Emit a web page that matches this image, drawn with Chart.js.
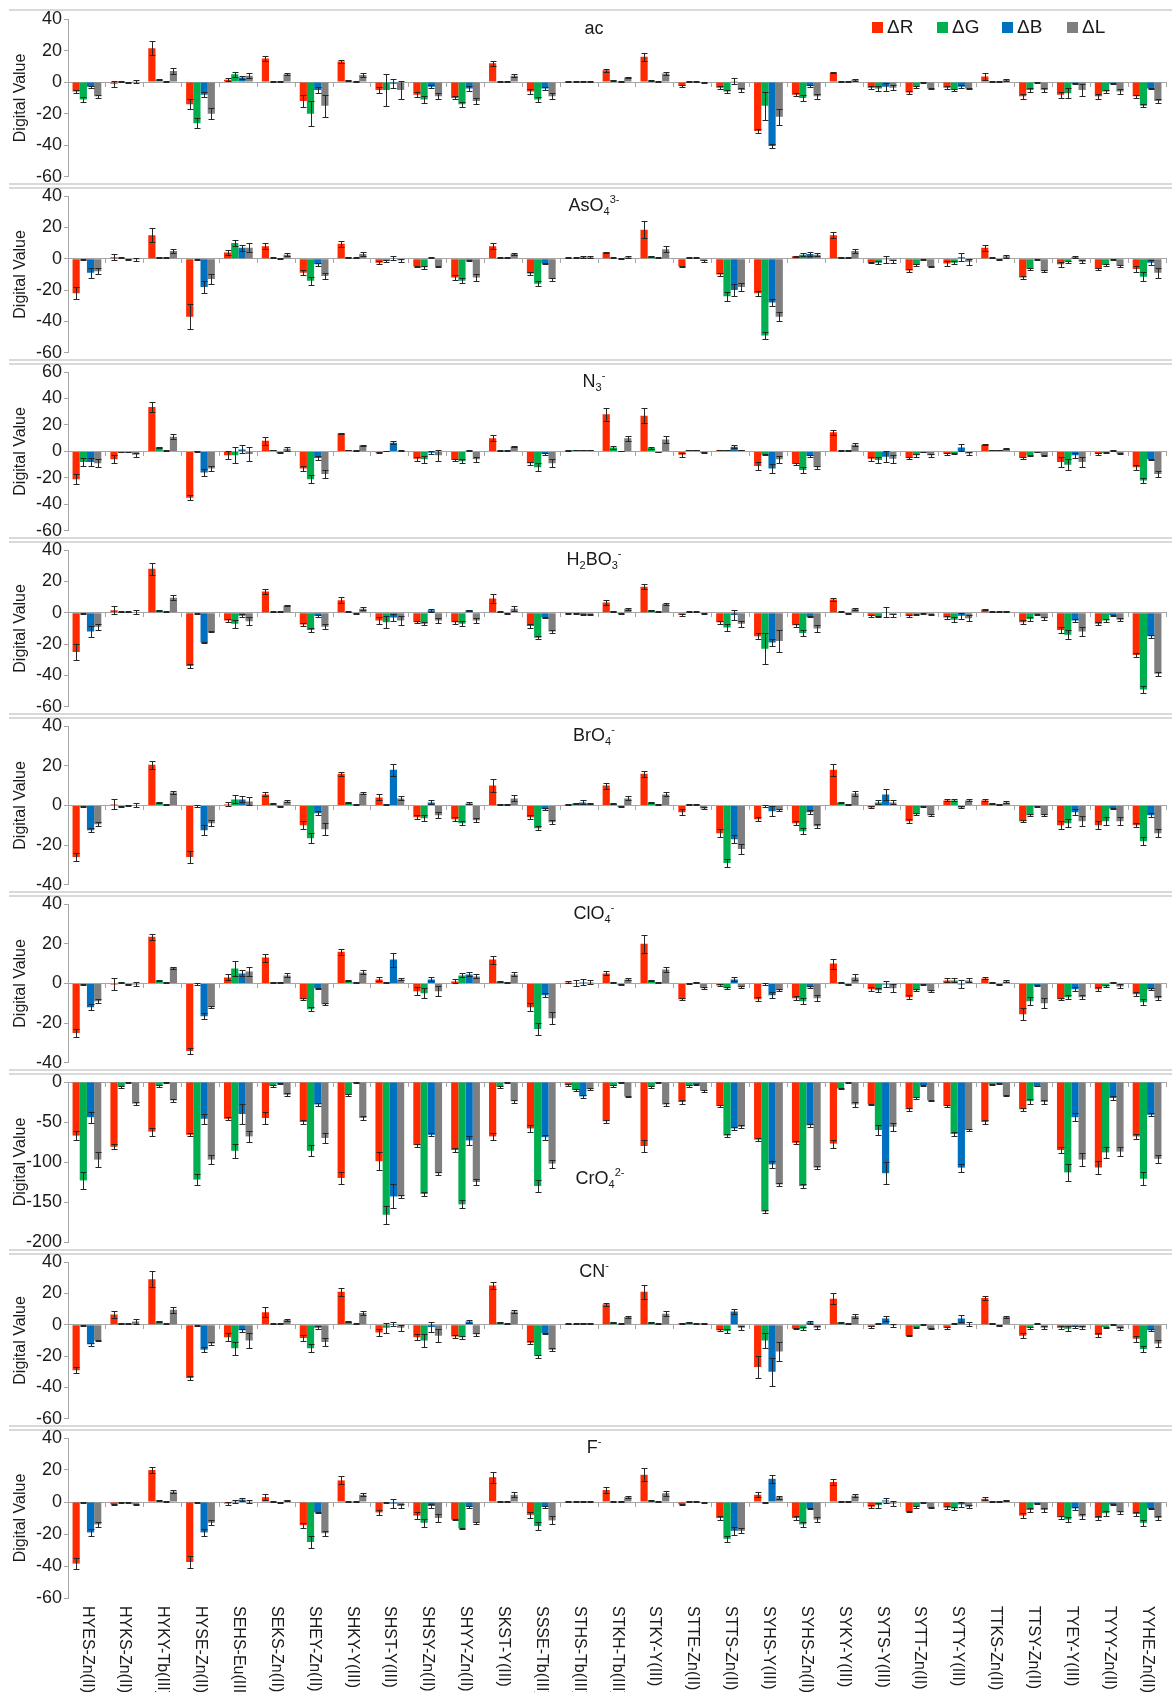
<!DOCTYPE html>
<html>
<head>
<meta charset="utf-8">
<script src="https://cdn.jsdelivr.net/npm/chart.js@4.4.0/dist/chart.umd.min.js"></script>
<style>
  html, body { margin: 0; padding: 0; background: #fff; }
  #wrap { position: relative; width: 1172px; height: 1692px; overflow: hidden; background: #fff; }
  #wrap canvas { position: absolute; left: 0; }
  .rule { position: absolute; left: 9px; width: 1163px; height: 2px; background: #d9d9d9; }
</style>
</head>
<body>
<div id="wrap"></div>
<script>
// ---- categories (sensor / metal complexes) ----
const categories = ['HYES-Zn(II)','HYKS-Zn(II)','HYKY-Tb(III)','HYSE-Zn(II)','SEHS-Eu(III)','SEKS-Zn(II)',
  'SHEY-Zn(II)','SHKY-Y(III)','SHST-Y(III)','SHSY-Zn(II)','SHYY-Zn(II)','SKST-Y(III)','SSSE-Tb(III)',
  'STHS-Tb(III)','STKH-Tb(III)','STKY-Y(III)','STTE-Zn(II)','STTS-Zn(II)','SYHS-Y(III)','SYHS-Zn(II)',
  'SYKY-Y(III)','SYTS-Y(III)','SYTT-Zn(II)','SYTY-Y(III)','TTKS-Zn(II)','TTSY-Zn(II)','TYEY-Y(III)',
  'TYYY-Zn(II)','YYHE-Zn(II)'];

const seriesNames = ['\u0394R', '\u0394G', '\u0394B', '\u0394L'];
const seriesColors = ['#FF2A00', '#00B050', '#0070C0', '#7F7F7F'];

// ---- ac ----
const acR  = [-6,-1,21.5,-14,1.5,15,-12,13,-5,-8,-10,12,-6,0.5,7.5,16,-2.5,-3.5,-31,-8,6,-3.5,-6.5,-3.5,3.5,-9,-8,-9,-9];
const acRe = [1,2,4.5,3,1,1.5,4,1,2,1.5,1,1.5,1.5,0.3,1,2.5,0.5,1,1.5,1,0.5,1,1,1,2,1.5,2,1.5,1];
const acG  = [-11,0.5,1.5,-26,5,0.5,-20,1,-5,-11,-14,0.5,-11,0.5,1,1,0.5,-6,-15,-10,0.5,-4,-3,-5,0.5,-5,-7,-6,-15];
const acGe = [1.5,0.3,0.3,3,1.5,0.3,8,0.3,10,2,1.5,0.3,1.5,0.3,0.3,0.3,0.3,1,9,2,0.3,1.5,0.5,0.5,0.3,1.5,3,1,1];
const acB  = [-3,-0.5,0.5,-8,3,0.3,-5,0.3,-1,-3,-4,0.3,-4,0.5,0.5,0.5,0.5,0.5,-40.5,-2.5,0.5,-3,-0.5,-3,0.5,-0.5,-1,-1,-4];
const acBe = [0.5,0.3,0.3,1.5,1,0.3,2,0.3,3,1,1.5,0.3,1,0.3,0.3,0.3,0.3,2,1,0.5,0.3,2.5,0.3,1,0.3,0.3,0.5,0.3,0.5];
const acL  = [-9,0.5,7,-20,4,5,-15,4.5,-5,-9,-12,4,-9,0.5,3,5.5,-0.5,-5,-22,-9,1.5,-3.5,-4,-4,1.5,-5,-5,-6,-12];
const acLe = [1,1,2,3.5,1.5,0.5,7,1,6,2,2,1,2,0.3,0.5,1,0.3,1,5,1.5,0.5,1.5,0.5,0.5,0.5,1.5,4,1.5,1.5];

// ---- AsO4 3- ----
const asR  = [-22,1,15,-37,4,8,-9,9.5,-2.5,-5,-12,8,-9.5,0.5,4,18.5,-5,-10,-22,1.5,15,-2.5,-7.5,-3,7,-12,-3.5,-6.5,-6.5];
const asRe = [4,2,4.5,8,1.5,2,1.5,2,1,0.5,1.5,2,1,0.3,0.5,5.5,0.5,1,1.5,0.5,2,0.5,1,1.5,2,1,1.5,0.5,2];
const asG  = [-0.5,0.5,1,-0.3,10,0.5,-14,1,-1.5,-5.5,-14,0.5,-16,0.5,0.5,1.5,0.5,-24,-49,2.5,1,-2.5,-4,-2.5,0.5,-6.5,-2,-4,-11.5];
const asGe = [0.3,0.3,0.3,0.3,2,0.3,2.5,0.3,0.5,1,1.5,0.3,1.5,0.3,0.3,0.5,0.3,3,2,1,0.3,1,0.5,1,0.3,0.5,0.5,0.5,3];
const asB  = [-9,-0.5,0.5,-18,7,0.3,-3.5,0.5,0.5,0.5,-1,0.5,-3,1,0.3,0.5,0.5,-20,-28,3,0.5,-0.5,-0.5,1,-0.5,-0.5,1,-0.5,-2.5];
const asBe = [3,0.3,0.3,4,2,0.3,1,0.3,1.5,0.3,0.5,0.3,0.5,0.5,0.3,0.3,0.3,4,2,1,0.3,2.5,0.3,2.5,0.3,0.3,0.5,0.3,1.5];
const asL  = [-8,-0.5,5,-13,7,2.5,-11,3,-1,-5,-12,3,-13,1,1,6,-1.5,-18,-37,2.5,5,-1.5,-5,-2,1.5,-8,-2,-4.5,-9];
const asLe = [2,1,1.5,3,3,1,2,1,1,0.5,2,0.5,1,0.5,0.5,2,0.5,2.5,3,1,1.5,1,0.5,2,1,0.5,1,0.5,3];

// ---- N3 - ----
const n3R  = [-21,-6,33.5,-35,-3,8,-13,13.5,-1,-5.5,-6.5,10,-9,0.5,28,27,-2.5,1,-11,-9.5,14.5,-5.5,-5,-2,5,-5,-8,-2,-12];
const n3Re = [4,3,4,2,3,3,2,0.5,0.3,1.5,1,2.5,1,0.3,5,5.5,1.5,0.3,3,1,2,1.5,1,0.5,0.5,0.5,4,0.5,2];
const n3G  = [-8,-0.5,3,-0.3,-3,1,-21,1,0.3,-6,-7.5,0.5,-12,1,3,2.5,1,1,-2.5,-14,0.5,-6.5,-3,-1.5,1,-3,-10,-1,-22];
const n3Ge = [3,0.3,0.5,0.3,6,0.3,3,0.3,0.3,2.5,1.5,0.3,3,0.3,1,1,0.3,0.3,0.5,2,0.3,2.5,1,0.5,0.3,0.5,4,0.5,2];
const n3B  = [-8,-0.5,0.5,-16,1.5,-1,-5,0.5,6.5,-1,0.5,0.5,-2,1,0.3,-0.5,1,3.5,-13,-3.5,0.5,-4,-0.5,3,1,-0.5,-3,0.5,-6];
const n3Be = [3,0.3,0.3,2.5,3,0.3,1.5,0.3,1,1,0.3,0.3,1,0.3,0.3,0.3,0.3,1,3.5,1,0.3,4,0.3,2.5,0.3,0.3,2,0.3,0.5];
const n3L  = [-9,-2.5,11,-13,-2,2,-17,4.5,0.5,-3,-6,3.5,-9,1,10,9,-1,1,-6,-12,5,-5.5,-3,-1.5,2,-3,-8,-1.5,-17];
const n3Le = [3,1.5,2,2,5,1.5,3,0.5,0.3,4,2,0.5,3,0.3,2,2.5,0.5,0.3,2.5,1,1,3,1,1,0.5,0.5,4,0.5,2];

// ---- H2BO3 - ----
const hbR  = [-25,1.5,28,-34,-5,13.5,-7.5,8,-5,-6,-6,9,-8.5,-0.5,6.5,16.5,-1.5,-6,-15,-8,8.5,-2,-2,-3,2,-6,-11,-7,-27];
const hbRe = [5,2.5,4,1,1,1.5,1,2,2,0.5,1,3,1,0.3,1.5,1.5,0.5,1,2,1,1,0.5,0.5,1,0.5,1.5,2,1,1.5];
const hbG  = [-0.5,0.5,1.5,-0.3,-7,0.5,-11,0.5,-6,-7,-7,0.5,-16,-0.5,1,1.5,0.5,-9.5,-23,-13,0.5,-2.5,-1,-4.5,0.5,-4,-14,-5,-49];
const hbGe = [0.3,0.3,0.3,0.3,2.5,0.3,1.5,0.3,4,1,1.5,0.3,1,0.3,0.3,0.3,0.3,2,10,2,0.3,0.5,0.3,1.5,0.3,1,3,1,2];
const hbB  = [-12,0.5,0.5,-19,-2,0.5,-2,-0.5,-3,1.5,1.5,-0.5,-3,-1,-0.5,0.5,0.5,-1.5,-19,-2.5,-0.5,0.5,-0.5,-2,0.5,-1,-5,-1.5,-15];
const hbBe = [3.5,0.3,0.3,0.5,1,0.3,0.5,0.3,2,1,0.5,0.3,0.5,0.3,0.3,0.3,0.3,3,2,0.5,0.3,3,0.3,2,0.3,0.3,1,0.3,1];
const hbL  = [-9,0.5,9.5,-12,-5.5,4.5,-9,2.5,-5,-5,-5,2.5,-12,-1,2.5,5.5,-0.5,-7,-18,-10,2.5,-1.5,-1,-3.5,1,-3.5,-12,-4.5,-39];
const hbLe = [2,1,1.5,0.5,2.5,0.5,1.5,1,3,1.5,1.5,1.5,1,0.3,0.5,0.5,0.3,2,7,2,0.5,1,0.3,2,0.3,1,3,1,1.5];

// ---- BrO4 - ----
const brR  = [-26,0.5,20.5,-26,0.5,5.5,-10,16,4,-6,-7,10,-6,0.5,10,16,-3.5,-14,-7,-9,18,-1,-8,2.5,2.5,-8,-10,-10,-10];
const brRe = [2,2.5,2,3,1,1,2,1,1.5,1,1,3.5,1,0.3,1.5,1.5,1.5,2,1,1,3,0.5,1,0.5,0.5,0.5,2,2,1];
const brG  = [-0.5,-0.5,1.5,-0.3,3,1,-16.5,1.5,0.5,-6.5,-9,0.5,-11.5,1,1,1.5,0.5,-29,-0.3,-13,1.5,1.5,-4.5,2.5,1,-5,-9,-8,-18];
const brGe = [0.3,0.3,0.3,0.3,2,0.3,2.5,0.3,0.3,1.5,1,0.3,1,0.3,0.3,0.3,0.3,2,0.3,1.5,0.3,1,0.5,0.5,0.3,0.5,2,2,2];
const brB  = [-12.5,0,0.5,-12.5,3,-0.5,-4,0.5,18,1.5,1,0.5,-2,1.5,-0.5,0.5,0.5,-17,-3,-3.5,0.5,5.5,-0.5,-1,0.5,-0.5,-3.5,-1.5,-5];
const brBe = [1,0.3,0.3,2.5,1.5,0.3,1,0.3,3,1,0.5,0.3,0.5,1,0.3,0.3,0.3,2,2.5,1,0.3,3,0.3,0.5,0.3,0.3,1.5,0.3,1];
const brL  = [-9.5,0,6.5,-9,2,2,-12,6,3.5,-5,-7.5,3.5,-8.5,1,3.5,5.5,-1.5,-22,-2.5,-10.5,6,1.5,-5,2.5,1.5,-5,-8,-8,-14];
const brLe = [1,1,1,1.5,2,0.5,3,0.5,1,1.5,1,1.5,1,0.3,1,1,0.5,2.5,0.5,1,1.5,1,0.5,0.5,0.5,0.5,2.5,2,2];

// ---- ClO4 - ----
const clR  = [-25,-0.5,23.5,-34,3,13,-8,16,2,-4,1,12,-12,0.5,5,20,-8,-1,-8,-7.5,10,-3,-7,1.5,2.5,-15.5,-8,-3,-5.5];
const clRe = [2,3,1.5,1.5,1.5,2,0.5,1.5,1,2,1,2,2,0.5,1,4.5,0.5,0.5,1,1,2.5,1,1,1,0.5,3,0.5,1,1];
const clG  = [-0.5,0.5,1.5,-0.3,7.5,0.5,-13,1.5,0.5,-5,4,1,-23,0,0.5,1.5,0,-2.5,-0.3,-9,0.5,-3.5,-3.5,1.5,0.5,-9,-7,-1.5,-9.5];
const clGe = [0.3,0.3,0.3,0.3,4,0.3,1,0.3,0.3,2.5,1,0.3,3,1.5,0.3,0.3,0.3,0.5,0.3,1.5,0.3,1,0.5,1,0.3,2,1,0.5,1.5];
const clB  = [-12,-0.5,0.5,-16.5,5,0.5,-2.5,0.5,12,2,4.5,0.5,-6,0.5,-0.5,0.5,0.5,2,-6,-2,-0.5,-0.5,-0.5,-0.5,-0.5,-1,-3,0.5,-3];
const clBe = [1.5,0.3,0.3,1.5,1.5,0.3,0.3,0.3,3.5,1,1,0.3,1,1.5,0.3,0.3,0.3,1,1.5,0.5,0.3,1.5,0.3,2,0.3,0.3,1,0.3,0.5];
const clL  = [-9,-0.5,8,-12,6,4,-10.5,5.5,2,-4,3.5,4.5,-17.5,0.5,2,7,-2.5,-2,-3.5,-7.5,3,-2.5,-4,1.5,1,-10,-7,-1.5,-7.5];
const clLe = [1,1,0.5,0.5,2.5,1,0.5,1,0.5,2.5,1,1,3,1,0.5,1.5,0.5,0.5,0.5,1.5,1.5,2,0.5,1,0.5,2.5,1,1,1];

// ---- CrO4 2- ----
const crR  = [-67,-81,-62,-66,-46,-45,-50,-120,-99,-79,-85,-68,-58,-4,-49,-80,-25,-30,-72,-76,-77,-28,-34,-30,-50,-34,-85,-107,-68];
const crRe = [6,3,5,2,2,7,3,8,11,2,3,4,4,1,2,7,2,1,2,2,5,1,2,1,2,2,4,8,3];
const crG  = [-123,-6,-5,-122,-86,-5,-86,-16,-166,-140,-153,-6,-130,-10,-5,-6,-5,-67,-162,-130,-8,-60,-20,-65,-3,-24,-113,-88,-121];
const crGe = [11,1,1,7,9,1,7,1,11,3,5,1,7,1,1,1,1,2,2,2,1,6,1,2,1,3,11,7,8];
const crB  = [-44,-1,-1,-46,-40,-2,-28,-1,-143,-66,-73,-1,-69,-18,-1,-1,-3,-58,-103,-54,-1,-114,-4,-107,-2,-5,-44,-20,-41];
const crBe = [7,0.5,0.5,6,12,0.5,2,0.5,15,2,6,0.5,3,2,0.5,0.5,0.5,2,4,2,0.5,14,0.5,5,0.5,0.5,5,3,2];
const crL  = [-97,-27,-23,-97,-68,-16,-70,-45,-143,-114,-125,-24,-102,-9,-18,-28,-11,-56,-128,-107,-28,-56,-23,-60,-17,-25,-97,-87,-96];
const crLe = [9,2,2,6,7,2,6,3,2,2,4,2,5,1,1,2,1,2,2,2,3,5,1,1,1,2,8,6,5];

// ---- CN - ----
const cnR  = [-29,6.5,29,-34,-8,8,-8.5,21,-5,-8,-7.5,25,-11.5,0.5,13,21,1,-3.5,-27,-2.5,16.5,-1.5,-7,-2,17,-7,-2,-6.5,-9];
const cnRe = [2,2.5,5,1.5,2.5,3,2,2.5,2,2,1,2,1,0.3,1,4.5,0.3,0.5,7,0.5,3.5,0.5,0.5,0.5,1.5,1.5,1,1.5,2];
const cnG  = [-0.5,1,2,-0.3,-15,0.5,-15,2,-2,-10,-8,1.5,-20,0.5,1.5,1.5,1.5,-4,-10,-2.5,1.5,0.5,-1.5,0.5,1,-2,-2.5,-1.5,-15.5];
const cnGe = [0.3,0.3,0.3,0.3,4,0.3,2.5,0.3,3,4,1,0.3,1,0.3,0.3,0.3,0.3,1,5,1,0.3,0.3,0.3,0.3,0.3,0.5,1.5,0.3,2];
const cnB  = [-12.5,0.5,0.5,-16,-3.5,0.5,-2,0.5,0.5,-1.5,2,0.5,-5.5,1,0.5,0.5,0.5,8.5,-30,1.5,0.5,4,0,4,-0.5,0.5,-1.5,0,-3.5];
const cnBe = [1,0.3,0.3,1.5,1,0.3,1,0.3,1.5,3,1,0.3,0.5,0.3,0.3,0.3,0.3,1.5,9,1,0.3,1.5,0.3,2,0.3,0.3,0.5,0.3,0.5];
const cnL  = [-10,2,9.5,-12,-10,3,-11,7.5,-2,-7,-6,8.5,-16,1,5,7,1,-2,-17,-2,5.5,-0.5,-2.5,0.5,5,-2,-2,-2.5,-12];
const cnLe = [0.5,1.5,2,1,5,0.5,2.5,1,2,4,1,1,1,0.3,0.5,1.5,0.3,1.5,6,1,1.5,1,0.5,1,0.5,1,1,1,2];

// ---- F - ----
const fR  = [-38.5,-1.5,20,-37.5,-1,3,-14.5,13.5,-6.5,-8.5,-11,15.5,-8,0.5,7.5,17,-1.5,-10,4.5,-10,12.5,-3,-6,-3.5,2,-8.5,-9.5,-10,-7.5];
const fRe = [3.5,0.5,2,4,1,2,1.5,2.5,1.5,2,0.5,3.5,2,0.3,2,4,0.5,1,1.5,1,2,1,0.5,1,1,1.5,1,1,1];
const fG  = [-0.5,-0.5,1,-0.3,0.5,0.5,-25,0.5,-0.5,-13,-16.5,0.5,-15,0.5,0.5,1,0.5,-23,-0.3,-14,0.5,-2,-3,-4,0.5,-5,-11,-7,-13];
const fGe = [0.3,0.3,0.3,0.3,1,0.3,3.5,0.3,0.3,2.5,0.5,0.3,2.5,0.3,0.3,0.3,0.3,2,0.3,1.5,0.3,1.5,0.5,1,0.3,1.5,1.5,1.5,2];
const fB  = [-19,-0.5,0.5,-19,1.5,-0.5,-6.5,0.5,-1,-2.5,-3,0.5,-3,0.5,0.5,0.5,0.5,-18,14.5,-4,0.5,1,-0.5,-1.5,0.5,-1,-4,-1.5,-4];
const fBe = [2,0.3,0.3,2,1,0.3,0.5,0.3,3,1,0.5,0.3,0.5,0.3,0.3,0.3,0.3,2.5,2.5,0.5,0.3,1.5,0.3,1.5,0.3,0.3,1,0.3,0.5];
const fL  = [-14,-1.5,6.5,-13,0.5,1,-19.5,4.5,-2.5,-10,-13,4.5,-11.5,0.5,3,5.5,-0.5,-18,3,-11,4,-1,-3.5,-3,1,-5,-9,-6.5,-10];
const fLe = [1.5,0.5,1,1.5,1,0.5,1.5,1,1,2.5,0.5,1.5,2.5,0.3,0.5,1.5,0.3,1.5,1,1.5,1,1.5,0.5,1,0.5,1,1.5,1,1.5];

// ---- y-axis ranges per panel: [min, max, step] ----
const yRanges = [[-60,40,20],[-60,40,20],[-60,60,20],[-60,40,20],[-40,40,20],[-40,40,20],[-200,0,50],[-60,40,20],[-60,40,20]];

// panel titles as (text, style) runs: '' normal, 'sub' subscript, 'sup' superscript
const titles = [
  [['ac','']],
  [['AsO',''],['4','sub'],['3-','sup']],
  [['N',''],['3','sub'],['-','sup']],
  [['H',''],['2','sub'],['BO',''],['3','sub'],['-','sup']],
  [['BrO',''],['4','sub'],['-','sup']],
  [['ClO',''],['4','sub'],['-','sup']],
  [['CrO',''],['4','sub'],['2-','sup']],
  [['CN',''],['-','sup']],
  [['F',''],['-','sup']]
];

const panelValues = [
  [acR, acG, acB, acL], [asR, asG, asB, asL], [n3R, n3G, n3B, n3L], [hbR, hbG, hbB, hbL], [brR, brG, brB, brL],
  [clR, clG, clB, clL], [crR, crG, crB, crL], [cnR, cnG, cnB, cnL], [fR, fG, fB, fL]
];
const panelErrors = [
  [acRe, acGe, acBe, acLe], [asRe, asGe, asBe, asLe], [n3Re, n3Ge, n3Be, n3Le], [hbRe, hbGe, hbBe, hbLe], [brRe, brGe, brBe, brLe],
  [clRe, clGe, clBe, clLe], [crRe, crGe, crBe, crLe], [cnRe, cnGe, cnBe, cnLe], [fRe, fGe, fBe, fLe]
];

// ---- page layout ----
const W = 1172;
const panelTop = [9, 186, 362, 540, 716, 894, 1072, 1252, 1428];
const panelH   = [177, 176, 178, 176, 178, 178, 180, 176, 264];
const PLOT_TOP = 10, PLOT_H = 160;
const FONT = '"Liberation Sans", Arial, Helvetica, sans-serif';
const AXIS = '#a6a6a6';
const INK = '#1a1a1a';

const wrap = document.getElementById('wrap');

// light frame rules above and between panels
function addRule(y) {
  const d = document.createElement('div');
  d.className = 'rule';
  d.style.top = y + 'px';
  wrap.appendChild(d);
}
addRule(9);
panelTop.slice(1).forEach(t => { addRule(t - 3); addRule(t + 1); });

// symmetric error bars drawn at each bar's centre
const errorBars = {
  id: 'errorBars',
  afterDatasetsDraw(chart) {
    const ctx = chart.ctx, ys = chart.scales.y;
    ctx.save();
    ctx.strokeStyle = '#262626';
    ctx.lineWidth = 1;
    chart.data.datasets.forEach((ds, di) => {
      const meta = chart.getDatasetMeta(di);
      meta.data.forEach((bar, i) => {
        const v = ds.data[i], e = ds.errors[i];
        if (!e) return;
        const x = Math.round(bar.x) + 0.5;
        const y1 = Math.round(ys.getPixelForValue(v + e)) + 0.5;
        const y2 = Math.round(ys.getPixelForValue(v - e)) + 0.5;
        ctx.beginPath();
        ctx.moveTo(x, y1); ctx.lineTo(x, y2);
        ctx.moveTo(x - 3, y1); ctx.lineTo(x + 3, y1);
        ctx.moveTo(x - 3, y2); ctx.lineTo(x + 3, y2);
        ctx.stroke();
      });
    });
    ctx.restore();
  }
};

// ion label with sub/superscripts
const panelTitle = {
  id: 'panelTitle',
  afterDraw(chart, args, opts) {
    const runs = opts.runs;
    if (!runs) return;
    const ctx = chart.ctx;
    const big = '18px ' + FONT, small = '11px ' + FONT;
    ctx.save();
    let total = 0;
    runs.forEach(([t, s]) => { ctx.font = s ? small : big; total += ctx.measureText(t).width; });
    let x = opts.cx - total / 2;
    ctx.fillStyle = INK;
    ctx.textBaseline = 'alphabetic';
    ctx.textAlign = 'left';
    runs.forEach(([t, s]) => {
      ctx.font = s ? small : big;
      const dy = s === 'sub' ? 4 : (s === 'sup' ? -8 : 0);
      ctx.fillText(t, x, opts.baseline + dy);
      x += ctx.measureText(t).width;
    });
    ctx.restore();
  }
};

// colour-key for the four channels
const channelKey = {
  id: 'channelKey',
  afterDraw(chart, args, opts) {
    if (!opts.show) return;
    const ctx = chart.ctx;
    ctx.save();
    ctx.font = '19px ' + FONT;
    ctx.textBaseline = 'middle';
    ctx.textAlign = 'left';
    const xs = [872, 937, 1002, 1067];
    chart.data.datasets.forEach((ds, i) => {
      ctx.fillStyle = ds.backgroundColor;
      ctx.fillRect(xs[i], 13, 11, 11);
      ctx.fillStyle = INK;
      ctx.fillText(ds.label, xs[i] + 15, 19);
    });
    ctx.restore();
  }
};

// vertical category names under the last panel, reading top to bottom
const categoryNames = {
  id: 'categoryNames',
  afterDraw(chart, args, opts) {
    if (!opts.show) return;
    const ctx = chart.ctx, xs = chart.scales.x;
    const y0 = chart.chartArea.bottom + 8;
    ctx.save();
    ctx.font = '16px ' + FONT;
    ctx.fillStyle = INK;
    ctx.textAlign = 'left';
    ctx.textBaseline = 'middle';
    chart.data.labels.forEach((lab, i) => {
      const x = xs.getPixelForTick(i);
      ctx.save();
      ctx.translate(x, y0);
      ctx.rotate(Math.PI / 2);
      ctx.fillText(lab, 0, 0);
      ctx.restore();
    });
    ctx.restore();
  }
};

panelValues.forEach((vals, p) => {
  const cv = document.createElement('canvas');
  cv.width = W;
  cv.height = panelH[p];
  cv.style.top = panelTop[p] + 'px';
  cv.style.width = W + 'px';
  cv.style.height = panelH[p] + 'px';
  wrap.appendChild(cv);
  const [ymin, ymax, ystep] = yRanges[p];
  const isCr = p === 6;

  new Chart(cv, {
    type: 'bar',
    data: {
      labels: categories,
      datasets: vals.map((d, k) => ({
        label: seriesNames[k],
        data: d,
        errors: panelErrors[p][k],
        backgroundColor: seriesColors[k],
        borderWidth: 0,
        categoryPercentage: 0.76,
        barPercentage: 1.0
      }))
    },
    options: {
      responsive: false,
      animation: false,
      devicePixelRatio: 1,
      layout: { padding: { top: PLOT_TOP, bottom: panelH[p] - PLOT_TOP - PLOT_H, left: 0, right: 6 } },
      plugins: {
        legend: { display: false },
        tooltip: { enabled: false },
        panelTitle: { runs: titles[p], cx: isCr ? 600 : 594, baseline: isCr ? 112 : 25 },
        channelKey: { show: p === 0 },
        categoryNames: { show: p === panelValues.length - 1 }
      },
      scales: {
        x: {
          position: { y: 0 },
          ticks: { display: false },
          grid: { display: true, drawOnChartArea: false, drawTicks: true, tickLength: 4, color: AXIS, offset: true },
          border: { display: true, color: AXIS, width: 1 }
        },
        y: {
          min: ymin, max: ymax,
          ticks: { stepSize: ystep, color: INK, padding: 2, font: { family: FONT, size: 18, lineHeight: 0.8 } },
          grid: { drawOnChartArea: false, drawTicks: true, tickLength: 4, color: AXIS },
          border: { display: true, color: AXIS, width: 1 },
          title: { display: true, text: 'Digital Value', color: INK, padding: { top: 11, bottom: 0 },
                   font: { family: FONT, size: 16, lineHeight: 1.2 } },
          afterFit(scale) { scale.width = 68; }
        }
      }
    },
    plugins: [errorBars, panelTitle, channelKey, categoryNames]
  });
});
</script>
</body>
</html>
